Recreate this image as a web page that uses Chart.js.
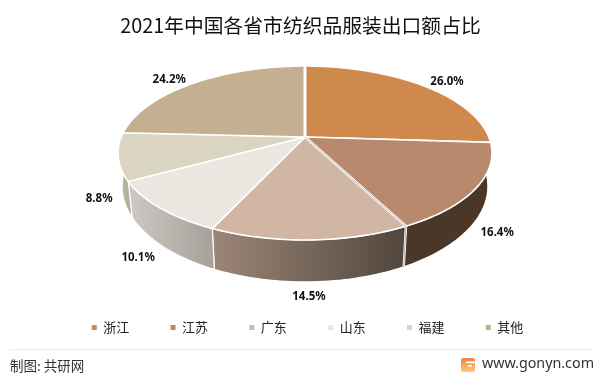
<!DOCTYPE html>
<html>
<head>
<meta charset="utf-8">
<style>
  html, body { margin: 0; padding: 0; background: #fff; }
  canvas { display: block; }
</style>
<script src="https://cdn.jsdelivr.net/npm/chart.js@4"></script>
</head>
<body>
<canvas id="chart" width="601" height="376"></canvas>
<script>
const categories = ["浙江", "江苏", "广东", "山东", "福建", "其他"];
const shares = [26.0, 16.4, 14.5, 10.1, 8.8, 24.2];
const topColors = ["#d0894d", "#b8896c", "#d2b6a4", "#ece6e1", "#d9d5c1", "#c4af91"];
const wallLeft = ["#5c4632", "#4a3728", "#9c8676", "#cfc8c4", "#c0bba6", "#9c8c74"];
const wallRight = ["#5c4632", "#4a3728", "#51463d", "#a7a19b", "#b5b09b", "#9c8c74"];
const labelOffsets = [[23, -4], [21, 45], [-1, 57], [-22, 50], [-19, 42], [-24, -4]];

// perspective of the tilted disc, fitted to the picture
const view = { cx: 305, cy: 137, a: 183.8, b: 84, p: 0.184, shrink: 0.978, depth: 42, slope: 0.1 };

function rim(angle, r) {
  const u = Math.cos(angle) * r;
  const v = Math.sin(angle) * r;
  const w = 1 - view.p * v;
  return { x: view.cx + view.a * u / w, y: view.cy + view.b * v / w };
}

function under(pt) {
  return {
    x: view.cx + (pt.x - view.cx) * view.shrink,
    y: pt.y + view.depth + (pt.y - 240) * view.slope
  };
}

function sampleArc(start, end) {
  const pts = [];
  const steps = Math.max(4, Math.ceil((end - start) * 40));
  for (let i = 0; i <= steps; i++) {
    pts.push(rim(start + (end - start) * i / steps, 1));
  }
  return pts;
}

function strokeLine(ctx, a, b, color, width) {
  ctx.strokeStyle = color;
  ctx.lineWidth = width;
  ctx.beginPath();
  ctx.moveTo(a.x, a.y);
  ctx.lineTo(b.x, b.y);
  ctx.stroke();
}

const disc3d = {
  id: "disc3d",
  beforeDatasetDraw(chart) {
    const ctx = chart.ctx;
    const arcs = chart.getDatasetMeta(0).data;
    ctx.save();

    // side walls first, the top covers whatever lies behind it
    arcs.forEach((arc, i) => {
      const top = sampleArc(arc.startAngle, arc.endAngle);
      const low = top.map(under);
      const xs = top.map(p => p.x);
      const grad = ctx.createLinearGradient(Math.min(...xs), 0, Math.max(...xs), 0);
      grad.addColorStop(0, wallLeft[i]);
      grad.addColorStop(1, wallRight[i]);
      ctx.beginPath();
      top.forEach((p, k) => (k ? ctx.lineTo(p.x, p.y) : ctx.moveTo(p.x, p.y)));
      low.reverse().forEach(p => ctx.lineTo(p.x, p.y));
      ctx.closePath();
      ctx.fillStyle = grad;
      ctx.fill();
      ctx.strokeStyle = "#ffffff";
      ctx.lineWidth = 1.2;
      ctx.stroke();
    });

    arcs.forEach((arc, i) => {
      const top = sampleArc(arc.startAngle, arc.endAngle);
      ctx.beginPath();
      ctx.moveTo(view.cx, view.cy);
      top.forEach(p => ctx.lineTo(p.x, p.y));
      ctx.closePath();
      ctx.fillStyle = topColors[i];
      ctx.fill();
      ctx.strokeStyle = "#ffffff";
      ctx.lineWidth = 1.6;
      ctx.stroke();
    });

    // wider gaps: at the first slice, and the grey seam between the 2nd and 3rd
    const apex = { x: view.cx, y: view.cy };
    strokeLine(ctx, apex, rim(arcs[0].startAngle, 1), "#ffffff", 3);
    const seam = rim(arcs[2].startAngle, 1);
    strokeLine(ctx, apex, seam, "#ffffff", 2.4);
    strokeLine(ctx, apex, seam, "#a89c92", 0.7);
    strokeLine(ctx, seam, under(seam), "#ffffff", 2.4);
    strokeLine(ctx, seam, under(seam), "#8f8a86", 0.7);

    // value labels
    ctx.font = "bold 11.5px 'Noto Sans'";
    ctx.fillStyle = "#111111";
    ctx.textAlign = "center";
    ctx.textBaseline = "middle";
    arcs.forEach((arc, i) => {
      const p = rim((arc.startAngle + arc.endAngle) / 2, 1);
      ctx.fillText(shares[i].toFixed(1) + "%", p.x + labelOffsets[i][0], p.y + labelOffsets[i][1]);
    });

    ctx.restore();
    return false;
  }
};

const footer = {
  id: "footer",
  afterLayout(chart) {
    // legend sits a little right of the page centre
    chart.legend.left += 7;
    chart.legend.right += 7;
  },
  afterDraw(chart) {
    const ctx = chart.ctx;
    ctx.save();
    ctx.strokeStyle = "#ebebeb";
    ctx.lineWidth = 1;
    ctx.beginPath();
    ctx.moveTo(10, 349.5);
    ctx.lineTo(594, 349.5);
    ctx.stroke();

    ctx.textBaseline = "middle";
    ctx.fillStyle = "#333333";
    ctx.font = "13.5px 'Noto Sans CJK SC'";
    ctx.fillText("制图: 共研网", 10, 366);
    ctx.font = "14.3px 'Noto Sans'";
    ctx.textAlign = "right";
    ctx.fillText("www.gonyn.com", 594, 364);

    // site logo
    const grad = ctx.createLinearGradient(0, 358, 0, 372);
    grad.addColorStop(0, "#f5843f");
    grad.addColorStop(1, "#f9c87c");
    ctx.fillStyle = grad;
    ctx.beginPath();
    ctx.roundRect(461, 358, 14, 14, 2);
    ctx.fill();
    ctx.fillStyle = "#ffffff";
    ctx.fillRect(466, 361.5, 9, 1.6);
    ctx.fillRect(468, 365, 4, 1.6);
    ctx.restore();
  }
};

new Chart(document.getElementById("chart"), {
  type: "pie",
  data: {
    labels: categories,
    datasets: [{ data: shares, backgroundColor: topColors, borderWidth: 0 }]
  },
  plugins: [disc3d, footer],
  options: {
    responsive: false,
    animation: false,
    layout: { padding: { bottom: 32 } },
    plugins: {
      title: {
        display: true,
        text: "2021年中国各省市纺织品服装出口额占比",
        color: "#111111",
        font: { family: "'Noto Sans CJK SC'", size: 19.8, weight: "normal" },
        padding: { top: 14, bottom: 10 }
      },
      legend: {
        position: "bottom",
        labels: {
          boxWidth: 5,
          boxHeight: 5,
          padding: 41.3,
          color: "#222222",
          font: { family: "'Noto Sans CJK SC'", size: 13 }
        }
      },
      tooltip: { enabled: false }
    }
  }
});
</script>
</body>
</html>
